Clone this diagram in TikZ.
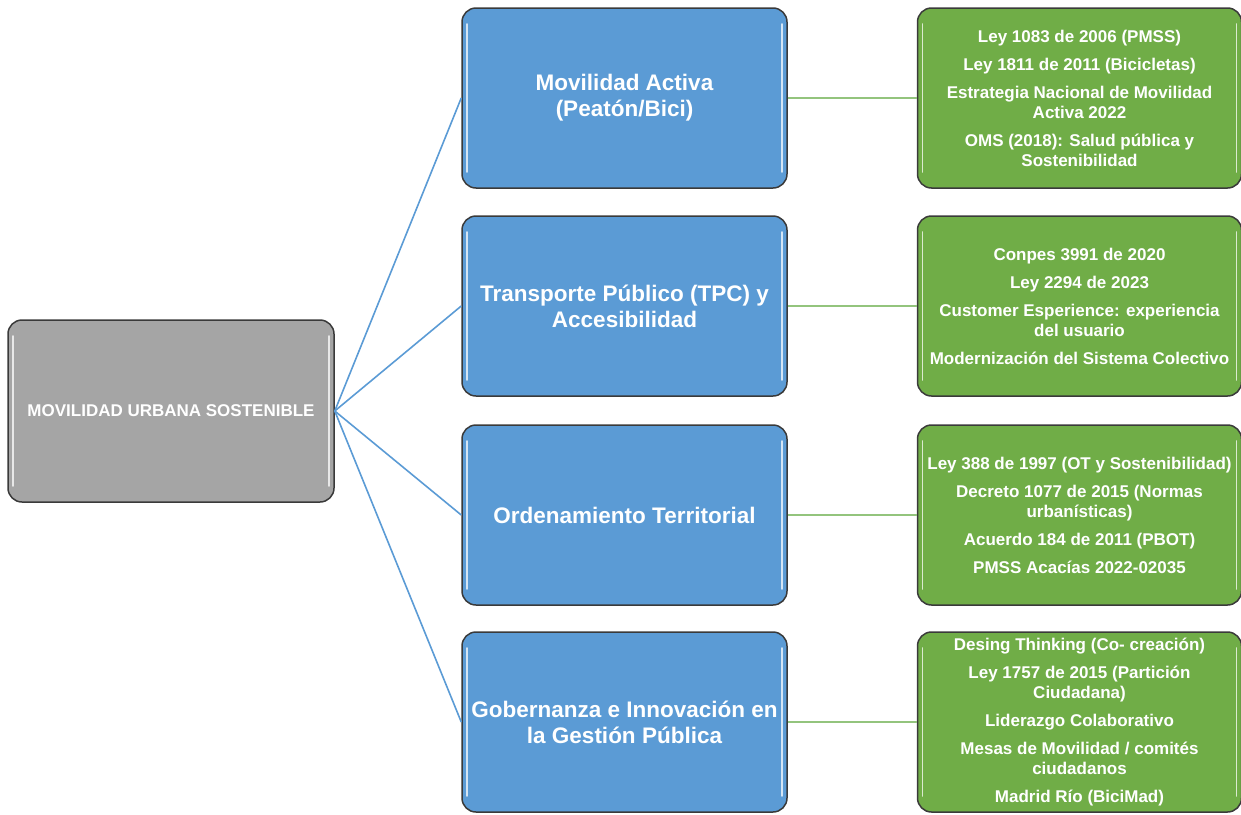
\documentclass[tikz,border=0pt]{standalone}
\usepackage{fontspec}
\setmainfont{Liberation Sans}
\usepackage{tikz}
\usetikzlibrary{positioning}
\definecolor{grisraiz}{HTML}{A5A5A5}
\definecolor{azuleje}{HTML}{5B9BD5}
\definecolor{verdenorma}{HTML}{70AD47}
\definecolor{verdelinea}{HTML}{93C47D}
\definecolor{bordecaja}{HTML}{3A3A3A}
\tikzset{
caja/.style={draw=bordecaja, line width=1.5pt, rounded corners=14pt, align=center, text=white, inner sep=0pt,
  path picture={\draw[white, opacity=.75, line width=1.6pt, line cap=round]
    ([xshift=5pt,yshift=-16pt]path picture bounding box.north west) -- ([xshift=5pt,yshift=16pt]path picture bounding box.south west)
    ([xshift=-5pt,yshift=-16pt]path picture bounding box.north east) -- ([xshift=-5pt,yshift=16pt]path picture bounding box.south east);}}, % marco comun con brillo lateral
raiz/.style={caja, fill=grisraiz, minimum width=326pt, minimum height=182pt, font=\bfseries\fontsize{17}{20}\selectfont},
eje/.style={caja, fill=azuleje, minimum width=325pt, minimum height=180pt, font=\bfseries\fontsize{22.5}{26}\selectfont},
norma/.style={caja, fill=verdenorma, minimum width=324pt, minimum height=180pt, font=\bfseries\fontsize{17}{20}\selectfont},
ramal/.style={draw=azuleje, line width=1.6pt}, % raiz -> ejes
enlace/.style={draw=verdelinea, line width=2pt}, % ejes -> normas
}

\begin{document}
\begin{tikzpicture}[x=1pt, y=-1pt]
\useasboundingbox (0,0) rectangle (1241,814);

\node[raiz] (mus) at (171,411) {MOVILIDAD URBANA SOSTENIBLE};

\node[eje] (activa) at (624.5,98) {Movilidad Activa\\(Peatón/Bici)};
\node[eje] (tpc) at (624.5,306) {Transporte Público (TPC) y\\Accesibilidad};
\node[eje] (ot) at (624.5,515) {Ordenamiento Territorial};
\node[eje] (gob) at (624.5,722) {Gobernanza e Innovación en\\la Gestión Pública};

\node[norma, right=129pt of activa] (nactiva) {Ley 1083 de 2006 (PMSS)\\[8pt]Ley 1811 de 2011 (Bicicletas)\\[8pt]Estrategia Nacional de Movilidad\\Activa 2022\\[8pt]OMS (2018): Salud pública y\\Sostenibilidad};
\node[norma, right=129pt of tpc] (ntpc) {Conpes 3991 de 2020\\[8pt]Ley 2294 de 2023\\[8pt]Customer Esperience: experiencia\\del usuario\\[8pt]Modernización del Sistema Colectivo};
\node[norma, right=129pt of ot] (not) {Ley 388 de 1997 (OT y Sostenibilidad)\\[8pt]Decreto 1077 de 2015 (Normas\\urbanísticas)\\[8pt]Acuerdo 184 de 2011 (PBOT)\\[8pt]PMSS Acacías 2022-02035};
\node[norma, right=129pt of gob] (ngob) {Desing Thinking (Co- creación)\\[8pt]Ley 1757 de 2015 (Partición\\Ciudadana)\\[8pt]Liderazgo Colaborativo\\[8pt]Mesas de Movilidad / comités\\ciudadanos\\[8pt]Madrid Río (BiciMad)};

\draw
(mus.east) edge[ramal] (activa.west)
(mus.east) edge[ramal] (tpc.west)
(mus.east) edge[ramal] (ot.west)
(mus.east) edge[ramal] (gob.west);

\draw
(activa.east) edge[enlace] (nactiva.west)
(tpc.east) edge[enlace] (ntpc.west)
(ot.east) edge[enlace] (not.west)
(gob.east) edge[enlace] (ngob.west);

\end{tikzpicture}
\end{document}
